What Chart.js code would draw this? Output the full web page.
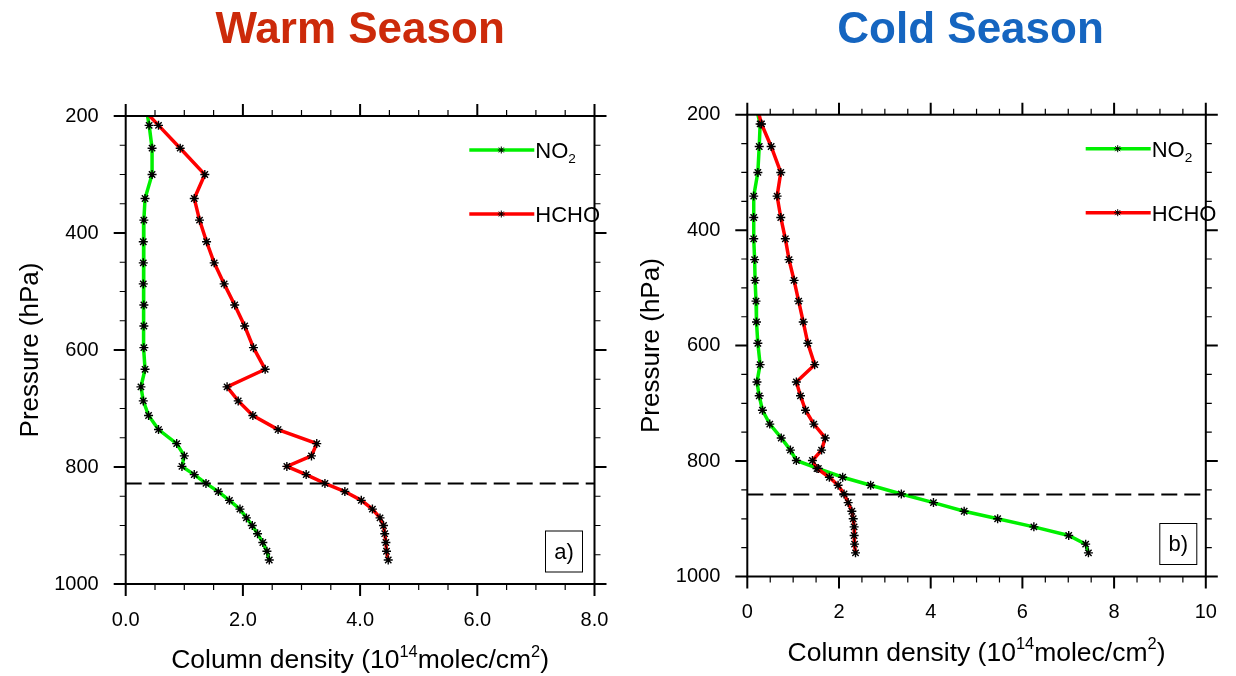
<!DOCTYPE html>
<html>
<head>
<meta charset="utf-8">
<script src="https://cdn.jsdelivr.net/npm/chart.js@4.4.1/dist/chart.umd.min.js"></script>
<style>
  body { margin: 0; background: #fff; }
  #wrap { position: relative; width: 1236px; height: 676px; }
  .panel { position: absolute; top: 0; width: 618px; height: 676px; }
</style>
</head>
<body>
<div id="wrap">
  <div class="panel" style="left:0"><canvas id="warmChart" width="618" height="676"></canvas></div>
  <div class="panel" style="left:618px"><canvas id="coldChart" width="618" height="676"></canvas></div>
</div>
<script>
// model levels (hPa), first one sits above the plot top and is clipped
const pressure = [180, 216, 255, 300, 341, 378, 415, 451, 487, 523, 559, 596, 633, 663, 687,
                  712, 736, 760, 781, 799, 813, 828, 842, 857, 872, 887, 900, 914, 929, 944, 959];

// warm season, 10^14 molec/cm2
const no2Warm  = [0.34, 0.40, 0.45, 0.45, 0.33, 0.31, 0.30, 0.30, 0.30, 0.31, 0.31, 0.31, 0.33, 0.26, 0.30,
                  0.39, 0.56, 0.87, 1.00, 0.96, 1.17, 1.37, 1.58, 1.77, 1.95, 2.06, 2.16, 2.25, 2.34, 2.41, 2.45];
const hchoWarm = [0.22, 0.56, 0.93, 1.35, 1.17, 1.26, 1.38, 1.51, 1.68, 1.86, 2.03, 2.18, 2.38, 1.73, 1.92,
                  2.17, 2.60, 3.26, 3.17, 2.75, 3.08, 3.40, 3.74, 4.02, 4.21, 4.34, 4.40, 4.42, 4.44, 4.45, 4.48];

// cold season
const no2Cold  = [0.17, 0.28, 0.26, 0.23, 0.14, 0.14, 0.14, 0.16, 0.17, 0.19, 0.20, 0.23, 0.28, 0.21, 0.26,
                  0.33, 0.49, 0.74, 0.94, 1.07, 1.55, 2.08, 2.69, 3.36, 4.06, 4.73, 5.46, 6.25, 7.01, 7.38, 7.44];
const hchoCold = [0.19, 0.31, 0.52, 0.73, 0.65, 0.73, 0.83, 0.91, 1.02, 1.12, 1.22, 1.32, 1.47, 1.07, 1.16,
                  1.27, 1.45, 1.70, 1.62, 1.42, 1.52, 1.79, 1.98, 2.11, 2.20, 2.28, 2.31, 2.33, 2.33, 2.34, 2.36];

// boundary layer top (hPa)
const blhWarm = 828;
const blhCold = 858;

const pressureTicks = [200, 400, 600, 800, 1000];
const xTicksWarm = [0, 2, 4, 6, 8];
const xTicksCold = [0, 2, 4, 6, 8, 10];

const FONT = '"Liberation Sans", Arial, Helvetica, sans-serif';
const GREEN = '#00f000';
const RED = '#ff0000';

function richText(ctx, parts, x, y, size, align) {
  // parts: [text, mode]  mode 1 = superscript, -1 = subscript
  const sz = m => (m ? size * 0.62 : size);
  let w = 0;
  parts.forEach(([t, m]) => { ctx.font = sz(m) + 'px ' + FONT; w += ctx.measureText(t).width; });
  let cx = align === 'center' ? x - w / 2 : x;
  ctx.textAlign = 'left';
  ctx.textBaseline = 'alphabetic';
  parts.forEach(([t, m]) => {
    ctx.font = sz(m) + 'px ' + FONT;
    const dy = m === 1 ? -0.42 * size : m === -1 ? 0.22 * size : 0;
    ctx.fillText(t, cx, y + dy);
    cx += ctx.measureText(t).width;
  });
}

const decorPlugin = {
  id: 'decor',
  afterDatasetsDraw(chart, args, o) {
    const { ctx, chartArea: a, scales: { x, y } } = chart;
    ctx.save();
    ctx.strokeStyle = '#000';

    // outward ticks on all four sides
    for (let v = x.min; v <= x.max + 1e-9; v += 0.5) {
      const major = Math.abs(v / 2 - Math.round(v / 2)) < 1e-6;
      const len = major ? 12 : 6;
      const px = x.getPixelForValue(v);
      ctx.lineWidth = major ? 2 : 1.2;
      ctx.beginPath();
      ctx.moveTo(px, a.bottom); ctx.lineTo(px, a.bottom + len);
      ctx.moveTo(px, a.top); ctx.lineTo(px, a.top - len);
      ctx.stroke();
    }
    for (let v = 200; v <= 1000; v += 50) {
      const major = v % 200 === 0;
      const len = major ? 12 : 6;
      const py = y.getPixelForValue(v);
      ctx.lineWidth = major ? 2 : 1.2;
      ctx.beginPath();
      ctx.moveTo(a.left, py); ctx.lineTo(a.left - len, py);
      ctx.moveTo(a.right, py); ctx.lineTo(a.right + len, py);
      ctx.stroke();
    }
    ctx.lineWidth = 2;
    ctx.strokeRect(a.left, a.top, a.right - a.left, a.bottom - a.top);

    // title
    ctx.fillStyle = o.titleColor;
    ctx.font = 'bold 44px ' + FONT;
    ctx.textAlign = 'center';
    ctx.textBaseline = 'alphabetic';
    ctx.fillText(o.title, (a.left + a.right) / 2 + o.titleShift, 43);

    // axis titles
    ctx.fillStyle = '#000';
    richText(ctx, [['Column density (10', 0], ['14', 1], ['molec/cm', 0], ['2', 1], [')', 0]],
      (a.left + a.right) / 2, a.bottom + 84, 26.5, 'center');
    ctx.save();
    ctx.translate(a.left - 88, (a.top + a.bottom) / 2);
    ctx.rotate(-Math.PI / 2);
    ctx.font = '26px ' + FONT;
    ctx.textAlign = 'center';
    ctx.fillText('Pressure (hPa)', 0, 0);
    ctx.restore();

    // legend
    const items = [[['NO', 0], ['2', -1]], [['HCHO', 0]]];
    const colors = [GREEN, RED];
    items.forEach((parts, i) => {
      const ly = a.top + 34 + i * 64;
      const lx = a.left + o.legendX;
      ctx.strokeStyle = colors[i];
      ctx.lineWidth = 3.5;
      ctx.beginPath();
      ctx.moveTo(lx, ly); ctx.lineTo(lx + 65, ly);
      ctx.stroke();
      ctx.strokeStyle = '#000';
      ctx.lineWidth = 1;
      Chart.helpers.drawPoint(ctx, { pointStyle: 'star', radius: 3.5, borderWidth: 1, rotation: 0 }, lx + 32, ly);
      ctx.fillStyle = '#000';
      richText(ctx, parts, lx + 66, ly + 8, 22, 'left');
    });

    // panel label
    const bw = 37, bh = 41;
    const bx = a.right - o.boxRight - bw, by = a.bottom - 12 - bh;
    ctx.lineWidth = 1;
    ctx.strokeStyle = '#000';
    ctx.strokeRect(bx, by, bw, bh);
    ctx.font = '22px ' + FONT;
    ctx.textAlign = 'center';
    ctx.textBaseline = 'middle';
    ctx.fillText(o.label, bx + bw / 2, by + bh / 2 + 1);
    ctx.restore();
  }
};

function noPad(s) {
  s.paddingLeft = 0; s.paddingRight = 0; s.paddingTop = 0; s.paddingBottom = 0;
}

function makeChart(id, no2, hcho, blh, xMax, xTicks, fmt, cfg) {
  const toPts = arr => arr.map((v, i) => ({ x: v, y: pressure[i] }));
  const lineStyle = color => ({
    borderColor: color, borderWidth: 3.5, pointStyle: 'star', pointRadius: 4.5,
    pointBorderColor: '#000', pointBorderWidth: 1.4, pointBackgroundColor: '#000', tension: 0
  });
  return new Chart(document.getElementById(id), {
    type: 'line',
    data: {
      datasets: [
        { label: 'BLH', data: [{ x: 0, y: blh }, { x: xMax, y: blh }], borderColor: '#000',
          borderWidth: 2, borderDash: [16, 7], pointRadius: 0 },
        { label: 'HCHO', data: toPts(hcho), ...lineStyle(RED) },
        { label: 'NO2', data: toPts(no2), ...lineStyle(GREEN) }
      ]
    },
    options: {
      responsive: false,
      animation: false,
      indexAxis: 'y',
      layout: { padding: { left: 0, top: cfg.top, right: cfg.right, bottom: 0 } },
      plugins: {
        legend: { display: false },
        tooltip: { enabled: false },
        decor: cfg.decor
      },
      scales: {
        x: {
          type: 'linear', position: 'bottom', min: 0, max: xMax,
          afterBuildTicks: s => { s.ticks = xTicks.map(v => ({ value: v })); },
          afterFit: s => { s.height = cfg.xAxisH; noPad(s); },
          grid: { display: false, drawTicks: false },
          border: { display: false },
          ticks: { color: '#000', font: { family: FONT, size: 20 }, padding: 24, maxRotation: 0,
                   callback: fmt }
        },
        y: {
          type: 'linear', position: 'left', min: 200, max: 1000, reverse: true,
          afterBuildTicks: s => { s.ticks = pressureTicks.map(v => ({ value: v })); },
          afterFit: s => { s.width = cfg.yAxisW; noPad(s); },
          grid: { display: false, drawTicks: false },
          border: { display: false },
          ticks: { color: '#000', font: { family: FONT, size: 20 }, padding: 27,
                   callback: v => String(v) }
        }
      }
    },
    plugins: [decorPlugin]
  });
}

makeChart('warmChart', no2Warm, hchoWarm, blhWarm, 8, xTicksWarm, v => v.toFixed(1), {
  top: 116, right: 23.5, xAxisH: 92, yAxisW: 125.7,
  decor: { title: 'Warm Season', titleColor: '#cc2a0a', titleShift: 0, legendX: 343.6, boxRight: 12, label: 'a)' }
});

makeChart('coldChart', no2Cold, hchoCold, blhCold, 10, xTicksCold, v => String(v), {
  top: 114.7, right: 30.2, xAxisH: 99.5, yAxisW: 129.3,
  decor: { title: 'Cold Season', titleColor: '#1565c0', titleShift: -6, legendX: 338.4, boxRight: 9, label: 'b)' }
});
</script>
</body>
</html>
